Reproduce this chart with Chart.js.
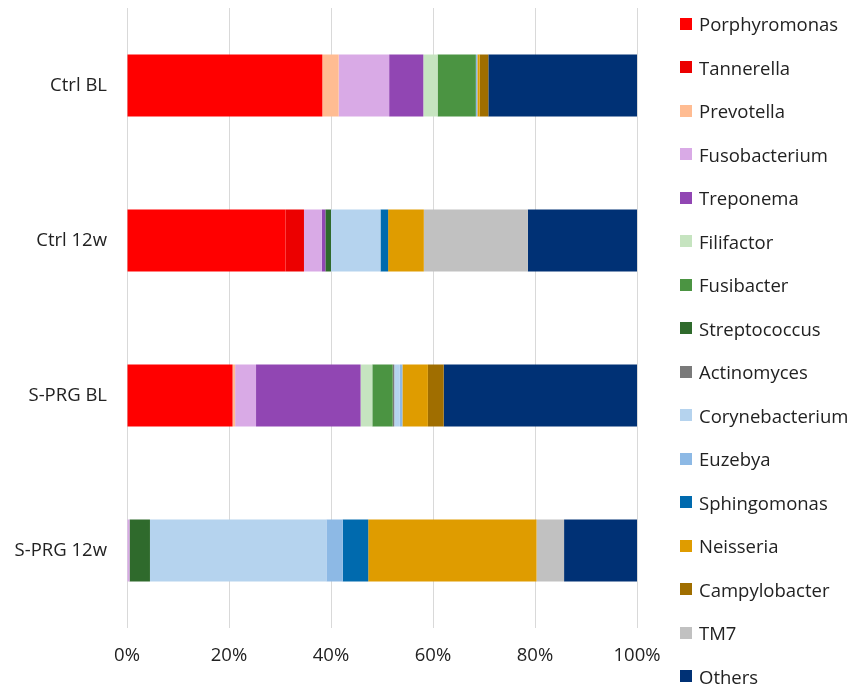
<!DOCTYPE html>
<html>
<head>
<meta charset="utf-8">
<script src="https://cdn.jsdelivr.net/npm/chart.js@4"></script>
<style>
  body { margin: 0; background: #fff; }
  #wrap { position: relative; width: 855px; height: 686px; }
  #legend { position: absolute; left: 680px; top: 2px; font-family: 'Open Sans', sans-serif; font-size: 18.5px; color: #222; }
  #legend div { height: 43.5px; display: flex; align-items: center; white-space: nowrap; }
  #legend span.box { width: 12px; height: 12px; margin-right: 7px; display: inline-block; }
</style>
</head>
<body>
<div id="wrap">
  <canvas id="chart" width="855" height="686"></canvas>
  <div id="legend"></div>
</div>
<script>
const samples = ['Ctrl BL', 'Ctrl 12w', 'S-PRG BL', 'S-PRG 12w'];

const genera = ['Porphyromonas', 'Tannerella', 'Prevotella', 'Fusobacterium', 'Treponema',
  'Filifactor', 'Fusibacter', 'Streptococcus', 'Actinomyces', 'Corynebacterium',
  'Euzebya', 'Sphingomonas', 'Neisseria', 'Campylobacter', 'TM7', 'Others'];

const colors = ['#FF0000', '#EC0000', '#FFBC92', '#D9AAE6', '#9146B3',
  '#C6E4C0', '#4B9442', '#2F6A2C', '#7A7A7A', '#B5D3EE',
  '#8DB9E5', '#006AAE', '#DF9C00', '#A06E00', '#C1C1C1', '#003175'];

// relative abundance (%) per sample, in genera order
const ctrlBL  = [38.3, 0,   3.2, 9.9, 6.7,  2.8, 7.5, 0,   0,   0,    0.3, 0,   0.45, 1.7, 0,    29.15];
const ctrl12w = [31.1, 3.6, 0,   3.5, 0.7,  0,   0,   1.1, 0,   9.7,  0,   1.5, 7.0,  0,   20.4, 21.4];
const sprgBL  = [20.7, 0,   0.5, 4.1, 20.5, 2.3, 4.0, 0,   0.3, 1.1,  0.5, 0,   5.0,  3.1, 0,    37.9];
const sprg12w = [0,    0,   0,   0.5, 0,    0,   0,   4.0, 0,   34.6, 3.2, 5.0, 33.0, 0,   5.4,  14.3];

const rows = [ctrlBL, ctrl12w, sprgBL, sprg12w];

const datasets = genera.map((g, i) => ({
  label: g,
  data: rows.map(r => r[i]),
  backgroundColor: colors[i],
  borderWidth: 0,
  barPercentage: 0.4,
  categoryPercentage: 1,
}));

const font = { family: "'Open Sans', sans-serif", size: 18.5 };

new Chart(document.getElementById('chart'), {
  type: 'bar',
  data: { labels: samples, datasets: datasets },
  options: {
    indexAxis: 'y',
    responsive: false,
    animation: false,
    layout: { padding: { top: 8, right: 218, left: 0, bottom: 0 } },
    plugins: { legend: { display: false }, tooltip: { enabled: false } },
    scales: {
      x: {
        stacked: true,
        min: 0,
        max: 100,
        ticks: { stepSize: 20, color: '#222', font: font, padding: 17, callback: v => v + '%' },
        grid: { color: '#d9d9d9', lineWidth: 1, drawTicks: false },
        border: { display: false },
        afterFit(scale) { scale.height = 58; },
      },
      y: {
        stacked: true,
        ticks: { color: '#222', font: font, padding: 20 },
        grid: { display: false, drawTicks: false },
        border: { display: false },
        afterFit(scale) {
          scale.width = 127;
          scale.paddingTop = 0;
          scale.paddingBottom = 0;
        },
      },
    },
  },
});

const legend = document.getElementById('legend');
genera.forEach((g, i) => {
  const item = document.createElement('div');
  const box = document.createElement('span');
  box.className = 'box';
  box.style.background = colors[i];
  item.appendChild(box);
  item.appendChild(document.createTextNode(g));
  legend.appendChild(item);
});
</script>
</body>
</html>
